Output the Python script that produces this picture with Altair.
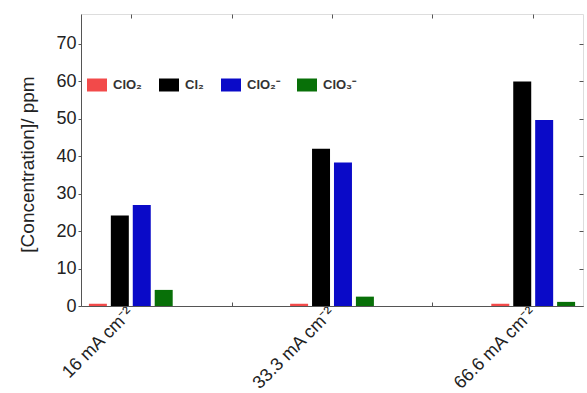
import altair as alt
import pandas as pd

# Current densities and measured species concentrations (ppm)
densities = ["16 mA cm⁻²", "33.3 mA cm⁻²", "66.6 mA cm⁻²"]
species = ["ClO₂", "Cl₂", "ClO₂⁻", "ClO₃⁻"]
clo2 = [0.6, 0.6, 0.6]
cl2 = [24.2, 42.0, 60.0]
clo2_minus = [27.0, 38.3, 49.7]
clo3_minus = [4.3, 2.5, 1.1]
colors = ["#f24a4a", "#000000", "#0a0ac8", "#087008"]

rows = []
for i, d in enumerate(densities):
    for s, vals in zip(species, [clo2, cl2, clo2_minus, clo3_minus]):
        rows.append({"density": d, "pos": i + 1, "species": s, "ppm": vals[i]})
df = pd.DataFrame(rows)

font = "Liberation Sans"
frame = "#555555"
y_ticks = [0, 10, 20, 30, 40, 50, 60, 70]
y_scale = alt.Scale(domain=[0, 78], nice=False)
pos_scale = alt.Scale(domain=[0.75, 3.25], nice=False, zero=False)

x = alt.X(
    "density:N",
    sort=densities,
    scale=alt.Scale(paddingInner=0.505, paddingOuter=0.0),
    axis=alt.Axis(
        title=None,
        labelAngle=-45,
        labelAlign="right",
        labelBaseline="middle",
        labelFontSize=18,
        labelFont=font,
        labelColor="#222222",
        labelPadding=4,
        labelBound=False,
        ticks=False,
        domainColor=frame,
    ),
)

bars = alt.Chart(df).mark_bar().encode(
    x=x,
    xOffset=alt.XOffset(
        "species:N",
        sort=species,
        scale=alt.Scale(paddingInner=0.18, paddingOuter=0.36),
    ),
    y=alt.Y(
        "ppm:Q",
        scale=y_scale,
        axis=alt.Axis(
            title="[Concentration]/ ppm",
            titleFontSize=19,
            titleFont=font,
            titleFontWeight="normal",
            titleColor="#222222",
            titlePadding=18,
            titleY=150,
            values=y_ticks,
            labelFontSize=18,
            labelFont=font,
            labelColor="#222222",
            tickSize=3,
            tickColor=frame,
            domainColor=frame,
            grid=False,
        ),
    ),
    color=alt.Color(
        "species:N",
        sort=species,
        scale=alt.Scale(domain=species, range=colors),
        legend=alt.Legend(
            title=None,
            orient="none",
            legendX=6,
            legendY=61,
            direction="horizontal",
            symbolType="M-1,-0.65L1,-0.65L1,0.65L-1,0.65Z",
            symbolSize=400,
            symbolStrokeWidth=0,
            labelFontSize=13,
            labelFont=font,
            labelFontWeight="bold",
            labelColor="#333333",
            columnPadding=17,
            labelOffset=6,
        ),
    ),
)

# Inward ticks on the right, top and bottom edges of the frame
right_axis = alt.Chart(df).mark_point(opacity=0).encode(
    y=alt.Y(
        "ppm:Q",
        scale=y_scale,
        axis=alt.Axis(orient="right", title=None, labels=False, values=y_ticks,
                      tickSize=4, offset=-4, tickColor=frame, domain=False),
    ),
)
top_axis = alt.Chart(df).mark_point(opacity=0).encode(
    x=alt.X(
        "pos:Q",
        scale=pos_scale,
        axis=alt.Axis(orient="top", title=None, labels=False,
                      values=[1, 1.5, 2, 2.5, 3], tickSize=4, offset=-4,
                      tickColor=frame, domain=False, grid=False),
    ),
)
bottom_axis = alt.Chart(df).mark_point(opacity=0).encode(
    x=alt.X(
        "pos:Q",
        scale=pos_scale,
        axis=alt.Axis(orient="bottom", title=None, labels=False,
                      values=[1.5, 2.5], tickSize=4, offset=-4,
                      tickColor=frame, domain=False, grid=False),
    ),
)

chart = (
    alt.layer(bars, right_axis, top_axis, bottom_axis)
    .resolve_scale(x="independent")
    .resolve_axis(x="independent", y="independent")
    .properties(
        width=502,
        height=292,
        autosize=alt.AutoSizeParams(type="none"),
        padding={"left": 81, "top": 14, "right": 4, "bottom": 87},
    )
    .configure_view(stroke=frame, strokeWidth=1)
    .configure(background="white")
)

chart.save("out.html", embed_options={"renderer": "svg", "actions": False})
